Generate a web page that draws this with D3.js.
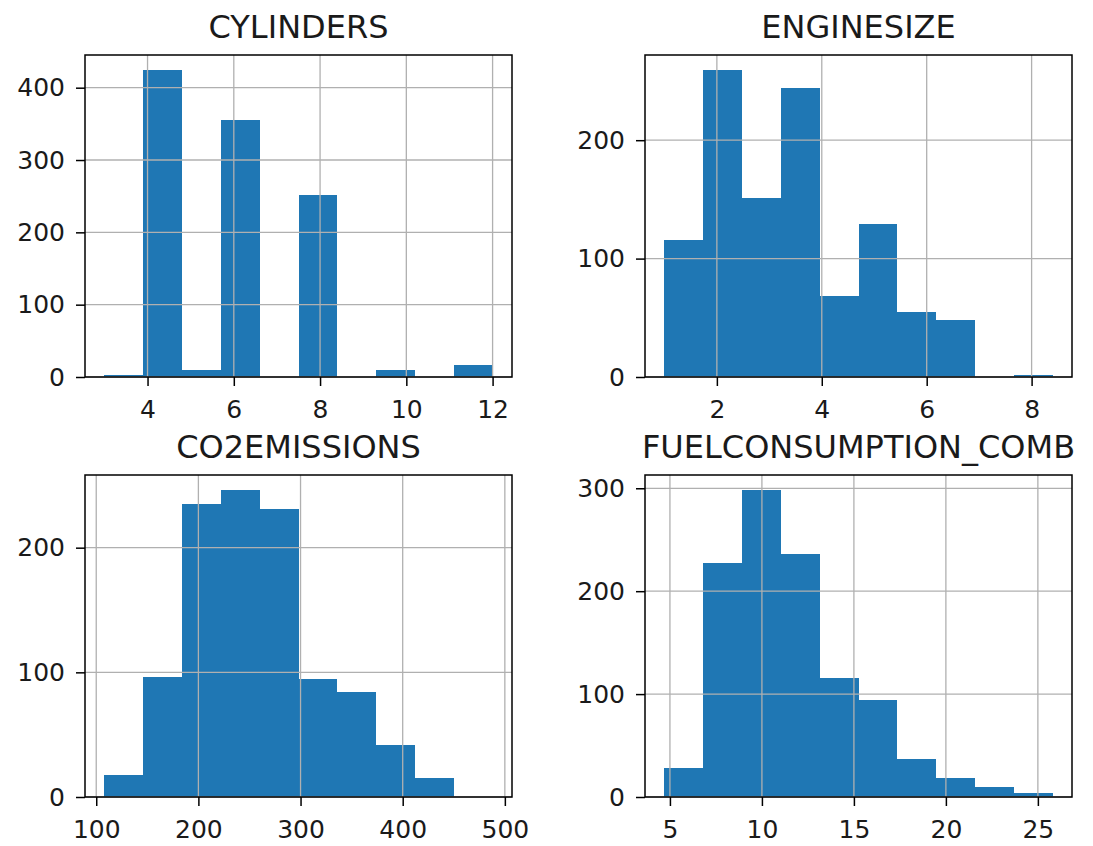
<!DOCTYPE html>
<html>
<head>
<meta charset="utf-8">
<script src="https://cdn.jsdelivr.net/npm/d3@7"></script>
<style>
  html, body { margin: 0; padding: 0; background: #fff; }
  svg { display: block; }
  svg text { font-family: "DejaVu Sans", sans-serif; }
</style>
</head>
<body>
<div class="chart-container"></div>
<script>
// column names, in subplot order
const columns = ['CYLINDERS', 'ENGINESIZE', 'CO2EMISSIONS', 'FUELCONSUMPTION_COMB'];

// data range of each column (10 equal bins between them)
const cylRange = [3, 12];
const engRange = [1.0, 8.4];
const co2Range = [108, 488];
const fuelRange = [4.7, 25.8];

// bin counts
const cylCounts = [3, 424, 9, 356, 0, 252, 0, 9, 0, 17];
const engCounts = [116, 259, 151, 244, 68, 129, 55, 48, 0, 2];
const co2Counts = [18, 96, 235, 246, 231, 95, 84, 42, 15, 0];
const fuelCounts = [28, 227, 298, 236, 116, 94, 37, 18, 10, 4];

// tick labels
const cylXTicks = [4, 6, 8, 10, 12];
const engXTicks = [2, 4, 6, 8];
const co2XTicks = [100, 200, 300, 400, 500];
const fuelXTicks = [5, 10, 15, 20, 25];
const cylYTicks = [0, 100, 200, 300, 400];
const engYTicks = [0, 100, 200];
const co2YTicks = [0, 100, 200];
const fuelYTicks = [0, 100, 200, 300];

const panels = [
    { name: columns[0], range: cylRange, counts: cylCounts, xt: cylXTicks, yt: cylYTicks, left: 85, top: 55 },
    { name: columns[1], range: engRange, counts: engCounts, xt: engXTicks, yt: engYTicks, left: 645, top: 55 },
    { name: columns[2], range: co2Range, counts: co2Counts, xt: co2XTicks, yt: co2YTicks, left: 85, top: 475 },
    { name: columns[3], range: fuelRange, counts: fuelCounts, xt: fuelXTicks, yt: fuelYTicks, left: 645, top: 475 }
];

const W = 1093, H = 846;
const pw = 427, ph = 322;
const barColor = '#1f77b4';
const gridColor = '#b0b0b0';
const textColor = '#1a1a1a';

const svg = d3.select('.chart-container')
    .append('svg')
    .attr('width', W)
    .attr('height', H);

panels.forEach(p => {
    const n = p.counts.length;
    const lo = p.range[0], hi = p.range[1];
    const step = (hi - lo) / n;
    const pad = (hi - lo) * 0.05;
    const bins = p.counts.map((c, i) => ({ x0: lo + i * step, x1: lo + (i + 1) * step, count: c }));

    const x = d3.scaleLinear().domain([lo - pad, hi + pad]).range([0, pw]);
    const y = d3.scaleLinear().domain([0, d3.max(p.counts) * 1.05]).range([ph, 0]);

    const g = svg.append('g')
        .attr('transform', `translate(${p.left},${p.top})`);

    // bars
    g.append('g')
        .selectAll('rect')
        .data(bins)
        .enter()
        .append('rect')
        .attr('x', d => x(d.x0))
        .attr('width', d => x(d.x1) - x(d.x0))
        .attr('y', d => y(d.count))
        .attr('height', d => ph - y(d.count))
        .attr('fill', barColor)
        .attr('shape-rendering', 'crispEdges');

    // grid, drawn above the bars like matplotlib
    g.append('g')
        .selectAll('line')
        .data(p.xt)
        .enter()
        .append('line')
        .attr('x1', d => x(d)).attr('x2', d => x(d))
        .attr('y1', 0).attr('y2', ph)
        .attr('stroke', gridColor)
        .attr('stroke-width', 1.3);
    g.append('g')
        .selectAll('line')
        .data(p.yt)
        .enter()
        .append('line')
        .attr('x1', 0).attr('x2', pw)
        .attr('y1', d => y(d)).attr('y2', d => y(d))
        .attr('stroke', gridColor)
        .attr('stroke-width', 1.3);

    // x-axis
    const xa = g.append('g')
        .attr('transform', `translate(0,${ph})`)
        .call(d3.axisBottom(x).tickValues(p.xt).tickFormat(d3.format('d')).tickSize(9).tickPadding(14));
    xa.attr('font-family', null).attr('font-size', null);
    xa.select('.domain').remove();
    xa.selectAll('.tick line').attr('stroke', '#000').attr('stroke-width', 1.5);
    xa.selectAll('.tick text')
        .attr('fill', textColor)
        .style('font-size', '25px');

    // y-axis
    const ya = g.append('g')
        .call(d3.axisLeft(y).tickValues(p.yt).tickFormat(d3.format('d')).tickSize(9).tickPadding(11));
    ya.attr('font-family', null).attr('font-size', null);
    ya.select('.domain').remove();
    ya.selectAll('.tick line').attr('stroke', '#000').attr('stroke-width', 1.5);
    ya.selectAll('.tick text')
        .attr('fill', textColor)
        .style('font-size', '25px');

    // frame
    g.append('rect')
        .attr('width', pw)
        .attr('height', ph)
        .attr('fill', 'none')
        .attr('stroke', '#000')
        .attr('stroke-width', 1.5);

    // title
    g.append('text')
        .attr('x', pw / 2)
        .attr('y', -17)
        .attr('text-anchor', 'middle')
        .attr('fill', textColor)
        .style('font-size', '32px')
        .text(p.name);
});
</script>
</body>
</html>
